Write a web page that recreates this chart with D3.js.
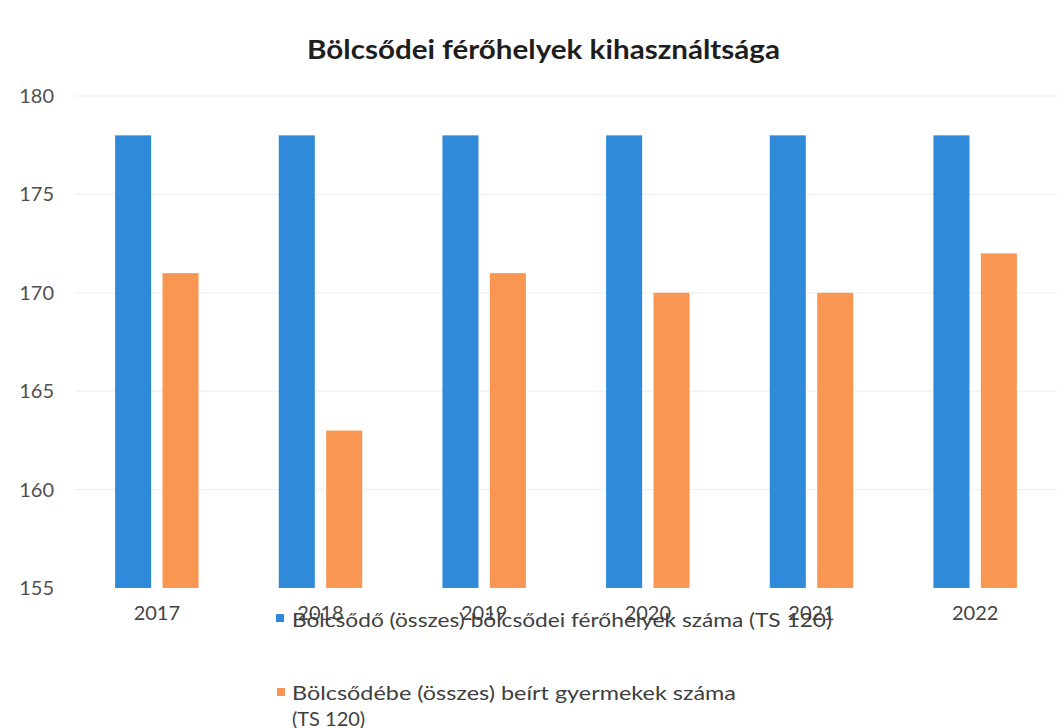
<!DOCTYPE html>
<html>
<head>
<meta charset="utf-8">
<script src="https://cdn.jsdelivr.net/npm/d3@7"></script>
<style>
  body { margin: 0; background: #fff; }
  text { font-family: Lato, "Open Sans", sans-serif; }
</style>
</head>
<body>
<div id="chart-area"></div>
<script>
// data
var years = ["2017", "2018", "2019", "2020", "2021", "2022"];
var ferohely = [178, 178, 178, 178, 178, 178];
var beirt = [171, 163, 171, 170, 170, 172];
var seriesNames = [
    "Bölcsődő (összes) bölcsődei férőhelyek száma (TS 120)",
    "Bölcsődébe (összes) beírt gyermekek száma",
    "(TS 120)"
];
var yTicks = [155, 160, 165, 170, 175, 180];
var colors = ["#2f8ad9", "#f99752"];

var svg = d3.select("#chart-area").append("svg")
    .attr("width", 1060)
    .attr("height", 728);

var y = d3.scaleLinear()
    .domain([155, 180])
    .range([588, 96]);

var x0 = d3.scaleBand()
    .domain(years)
    .range([75, 1057])
    .paddingInner(0.49)
    .paddingOuter(0.245);

var x1 = d3.scaleBand()
    .domain([0, 1])
    .range([0, x0.bandwidth()])
    .paddingInner(0.24);

// title
svg.append("text")
    .attr("x", 307)
    .attr("y", 59)
    .attr("font-size", 26)
    .attr("font-weight", "bold")
    .attr("fill", "#1e1e1e")
    .attr("textLength", 473)
    .attr("lengthAdjust", "spacingAndGlyphs")
    .text("Bölcsődei férőhelyek kihasználtsága");

// grid lines
svg.selectAll(".grid")
    .data(yTicks.slice(1))
    .enter()
    .append("line")
        .attr("class", "grid")
        .attr("x1", 75)
        .attr("x2", 1057)
        .attr("y1", function(d) { return y(d); })
        .attr("y2", function(d) { return y(d); })
        .attr("stroke", "#ededed")
        .attr("stroke-width", 1);

// y axis, no line
var yAxis = svg.append("g")
    .attr("transform", "translate(54,0)")
    .call(d3.axisLeft(y).tickValues(yTicks).tickSize(0).tickPadding(0));
yAxis.select(".domain").remove();
yAxis.selectAll("text")
    .attr("font-size", 20)
    .attr("fill", "#505050")
    .attr("font-family", "Lato, sans-serif");

// bars
var groups = svg.selectAll(".year")
    .data(years)
    .enter()
    .append("g")
        .attr("class", "year")
        .attr("transform", function(d) { return "translate(" + x0(d) + ",0)"; });

groups.selectAll("rect")
    .data(function(d, i) { return [ferohely[i], beirt[i]]; })
    .enter()
    .append("rect")
        .attr("x", function(d, j) { return x1(j); })
        .attr("y", function(d) { return y(d); })
        .attr("width", x1.bandwidth())
        .attr("height", function(d) { return y(155) - y(d); })
        .attr("fill", function(d, j) { return colors[j]; });

// x axis labels
var xAxis = svg.append("g")
    .attr("transform", "translate(0,606)")
    .call(d3.axisBottom(x0).tickSize(0).tickPadding(0));
xAxis.select(".domain").remove();
xAxis.selectAll("text")
    .attr("font-size", 20)
    .attr("fill", "#444")
    .attr("font-family", "Lato, sans-serif");

// legend (overlaps the axis labels like the original)
var legend = svg.append("g");
legend.append("rect")
    .attr("x", 276).attr("y", 614)
    .attr("width", 8).attr("height", 8)
    .attr("fill", colors[0]);
legend.append("text")
    .attr("x", 292).attr("y", 627)
    .attr("font-size", 20)
    .attr("fill", "#404040")
    .attr("textLength", 540)
    .attr("lengthAdjust", "spacingAndGlyphs")
    .text(seriesNames[0]);

legend.append("rect")
    .attr("x", 277).attr("y", 688)
    .attr("width", 8).attr("height", 8)
    .attr("fill", colors[1]);
legend.append("text")
    .attr("x", 292).attr("y", 700)
    .attr("font-size", 20)
    .attr("fill", "#404040")
    .attr("textLength", 444)
    .attr("lengthAdjust", "spacingAndGlyphs")
    .text(seriesNames[1]);
legend.append("text")
    .attr("x", 292).attr("y", 726)
    .attr("font-size", 20)
    .attr("fill", "#404040")
    .text(seriesNames[2]);
</script>
</body>
</html>
